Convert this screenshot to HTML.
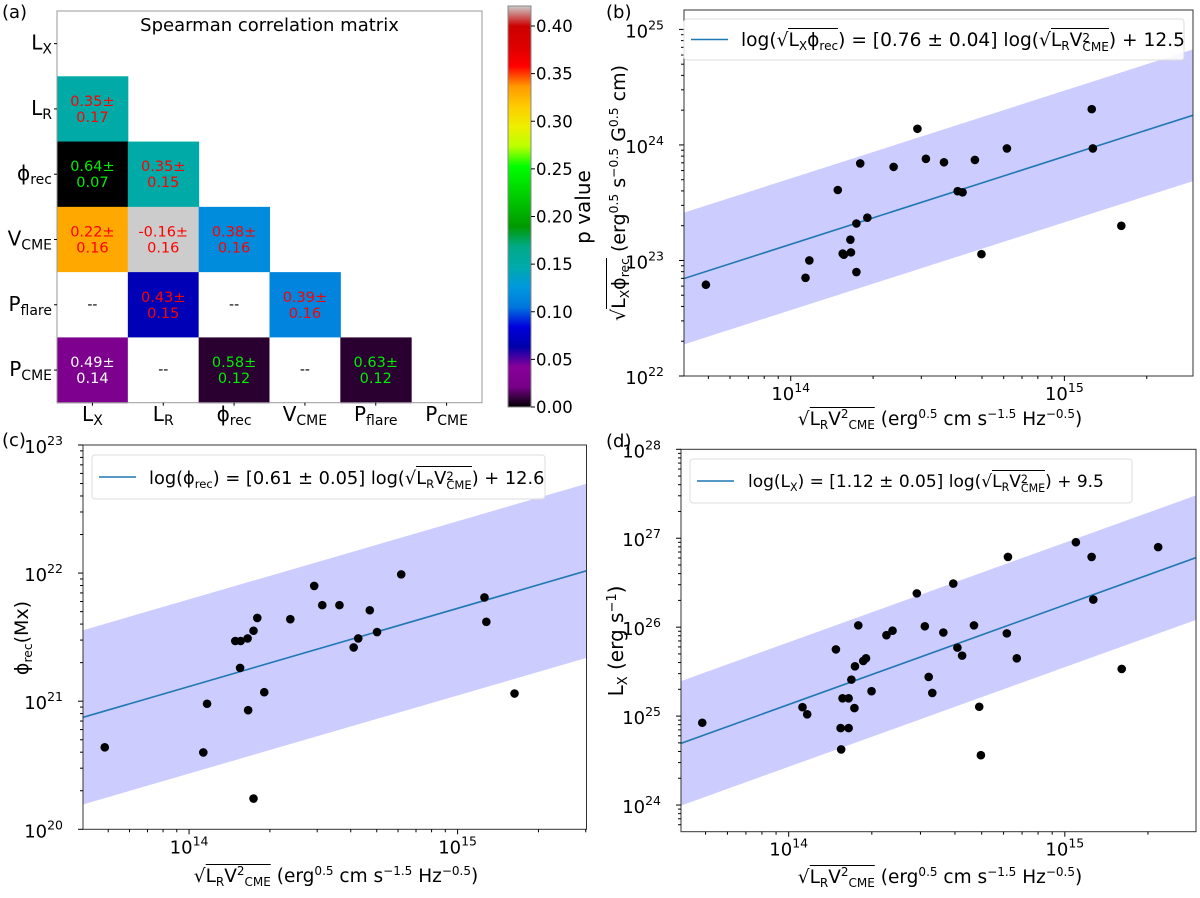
<!DOCTYPE html>
<html><head><meta charset="utf-8">
<style>
body{margin:0;background:#fff;}
#wrap{position:relative;width:1200px;height:898px;overflow:hidden;font-family:"DejaVu Sans","Liberation Sans",sans-serif;color:#000;}
svg{position:absolute;left:0;top:0;}
.lab{position:absolute;white-space:nowrap;font-size:17px;line-height:20px;}
.ov{border-top:1.3px solid #000;padding-top:1px;}
.ss{display:inline-block;vertical-align:-5px;line-height:9px;font-size:0.65em;text-align:left;}
sub{font-size:0.65em;vertical-align:-4px;line-height:0;}
sup{font-size:0.65em;vertical-align:7px;line-height:0;}
.rot{transform:translate(-50%,-50%) rotate(-90deg);}
.ctr{transform:translateX(-50%);}
</style></head>
<body>
<div id="wrap">
<svg id="svg" width="1200" height="898"></svg>

<div class="lab" style="left:741px;top:31px;font-size:18.6px;">log(√<span class="ov">L<sub>X</sub>ϕ<sub>rec</sub></span>) = [0.76 ± 0.04] log(√<span class="ov">L<sub>R</sub>V<span class="ss">2<br>CME</span></span>) + 12.5</div>
<div class="lab" style="left:149px;top:469px;font-size:17.8px;">log(ϕ<sub>rec</sub>) = [0.61 ± 0.05] log(√<span class="ov">L<sub>R</sub>V<span class="ss">2<br>CME</span></span>) + 12.6</div>
<div class="lab" style="left:748px;top:472px;font-size:17px;">log(L<sub>X</sub>) = [1.12 ± 0.05] log(√<span class="ov">L<sub>R</sub>V<span class="ss">2<br>CME</span></span>) + 9.5</div>

<div class="lab ctr" style="left:940px;top:410px;font-size:18.5px;">√<span class="ov">L<sub>R</sub>V<sup>2</sup><sub>CME</sub></span> (erg<sup>0.5</sup> cm s<sup>−1.5</sup> Hz<sup>−0.5</sup>)</div>
<div class="lab ctr" style="left:336px;top:867px;font-size:18.5px;">√<span class="ov">L<sub>R</sub>V<sup>2</sup><sub>CME</sub></span> (erg<sup>0.5</sup> cm s<sup>−1.5</sup> Hz<sup>−0.5</sup>)</div>
<div class="lab ctr" style="left:940px;top:868px;font-size:18.5px;">√<span class="ov">L<sub>R</sub>V<sup>2</sup><sub>CME</sub></span> (erg<sup>0.5</sup> cm s<sup>−1.5</sup> Hz<sup>−0.5</sup>)</div>

<div class="lab rot" style="left:619px;top:193px;font-size:19px;">√<span class="ov">L<sub>X</sub>ϕ<sub>rec</sub></span> (erg<sup>0.5</sup> s<sup>−0.5</sup> G<sup>0.5</sup> cm)</div>
<div class="lab rot" style="left:22px;top:638px;font-size:19px;">ϕ<sub>rec</sub>(Mx)</div>
<div class="lab rot" style="left:616px;top:641px;font-size:20px;">L<sub>X</sub> (erg s<sup>−1</sup>)</div>
</div>

<script>
// ---------- Panel (a) data ----------
const matLabels = [["L","X"],["L","R"],["ϕ","rec"],["V","CME"],["P","flare"],["P","CME"]];
// p-values (lower triangle), null = "--"
const pRow1 = [0.15];
const pRow2 = [0.0, 0.15];
const pRow3 = [0.33, 0.45, 0.118];
const pRow4 = [null, 0.068, null, 0.113];
const pRow5 = [0.03, null, 0.0074, null, 0.0074];
const rhoRow1 = ["0.35±0.17"];
const rhoRow2 = ["0.64±0.07","0.35±0.15"];
const rhoRow3 = ["0.22±0.16","-0.16±0.16","0.38±0.16"];
const rhoRow4 = ["--","0.43±0.15","--","0.39±0.16"];
const rhoRow5 = ["0.49±0.14","--","0.58±0.12","--","0.63±0.12"];
const cbarTicks = [0,0.05,0.10,0.15,0.20,0.25,0.30,0.35,0.40];
const cbarMax = 0.421;

// ---------- Panel (b) data (log10 values) ----------
const bLogX = [13.69,14.054,14.068,14.172,14.19,14.194,14.218,14.22,14.24,14.24,14.254,14.28,14.376,14.463,14.494,14.56,14.61,14.628,14.673,14.697,14.79,15.1,15.104,15.208];
const bLogY = [22.79,22.85,23.00,23.61,23.06,23.05,23.18,23.07,23.32,22.90,23.84,23.37,23.81,24.14,23.88,23.85,23.60,23.59,23.87,23.055,23.97,24.31,23.97,23.30];
const bFit = [0.76, 12.5, 0.57];
const bYTicks = [22,23,24,25];

// ---------- Panel (c) data ----------
const cLogX = [13.686,14.053,14.067,14.172,14.192,14.218,14.19,14.22,14.24,14.24,14.254,14.28,14.377,14.466,14.496,14.56,14.613,14.63,14.673,14.70,14.79,15.10,15.107,15.212];
const cLogY = [20.64,20.60,20.98,21.47,21.47,21.49,21.26,20.93,21.55,20.24,21.65,21.07,21.64,21.90,21.75,21.75,21.42,21.49,21.71,21.54,21.99,21.81,21.62,21.06];
const cFit = [0.61, 12.575, 0.68];
const cYTicks = [20,21,22,23];

// ---------- Panel (d) data ----------
const dLogX = [13.687,14.05,14.067,14.171,14.188,14.19,14.195,14.217,14.217,14.227,14.238,14.24,14.252,14.27,14.28,14.30,14.354,14.376,14.464,14.493,14.507,14.52,14.56,14.596,14.611,14.628,14.671,14.69,14.696,14.79,14.794,14.826,15.04,15.097,15.103,15.206,15.338];
const dLogY = [24.925,25.10,25.02,25.75,24.865,24.625,25.20,25.20,24.865,25.41,25.09,25.56,26.02,25.62,25.65,25.28,25.91,25.96,26.38,26.01,25.44,25.26,25.94,26.49,25.77,25.68,26.02,25.105,24.56,25.93,26.79,25.65,26.955,26.79,26.31,25.53,26.90];
const dFit = [1.12, 9.45, 0.70];
const dYTicks = [24,25,26,27,28];

const xTicks = [14,15];

const NS = "http://www.w3.org/2000/svg";
const svg = document.getElementById('svg');
function el(tag, attrs, parent){
  const e = document.createElementNS(NS, tag);
  for (const k in attrs) e.setAttribute(k, attrs[k]);
  (parent||svg).appendChild(e);
  return e;
}
function linScale(d0,d1,p0,p1){ return v => p0 + (v-d0)/(d1-d0)*(p1-p0); }

// nipy_spectral
const spec = [[0,0,0],[.4667,0,.5333],[.5333,0,.6],[0,0,.6667],[0,0,.8667],[0,.4667,.8667],[0,.6,.8667],[0,.6667,.6667],[0,.6667,.5333],[0,.6,0],[0,.7333,0],[0,.8667,0],[0,1,0],[.7333,1,0],[.9333,.9333,0],[1,.8,0],[1,.6,0],[1,0,0],[.8667,0,0],[.8,0,0],[.8,.8,.8]];
function cmap(f){
  f = Math.max(0, Math.min(1, f));
  const t = f*20, i = Math.min(19, Math.floor(t)), r = t - i;
  const a = spec[i], b = spec[i+1];
  const c = a.map((v,k)=>Math.round(255*(v+(b[k]-v)*r)));
  return `rgb(${c[0]},${c[1]},${c[2]})`;
}

// ---------- Panel labels ----------
[["(a)",2,18,"panel-label-a"],["(b)",606,18,"panel-label-b"],["(c)",2,446,"panel-label-c"],["(d)",606,447,"panel-label-d"]].forEach(p=>{
  const t = el('text',{x:p[1],y:p[2],'font-size':18});
  t.textContent = p[0];
  
  
});

// ---------- Panel (a) ----------
(function(){
  const L=57, R=482, T=11, B=402.7;
  const cw=(R-L)/6, ch=(B-T)/6;
  const pRows=[[],pRow1,pRow2,pRow3,pRow4,pRow5];
  const rRows=[[],rhoRow1,rhoRow2,rhoRow3,rhoRow4,rhoRow5];
  const g = el('g',{});
  
  
  for(let i=1;i<6;i++){
    for(let j=0;j<i;j++){
      const p=pRows[i][j], txt=rRows[i][j];
      const x=L+j*cw, y=T+i*ch;
      const cell = el('rect',{x:x,y:y,width:cw+0.5,height:ch+0.5,fill:p===null?'#fff':cmap(p/cbarMax)},g);
      
      
      const cx=x+cw/2, cy=y+ch/2;
      if(p===null){
        const t=el('text',{x:cx,y:cy+4,'text-anchor':'middle','font-size':14,fill:'#000'},g);
        t.textContent='--';
        
        
      } else {
        const col = p>0.05 ? '#ff0000' : (p<0.01 ? '#00ee00' : '#ffffff');
        const parts = txt.split('±');
        const t1=el('text',{x:cx,y:cy-3,'text-anchor':'middle','font-size':14.5,fill:col},g);
        t1.textContent=parts[0]+'±';
        
        
        const t2=el('text',{x:cx,y:cy+13,'text-anchor':'middle','font-size':14.5,fill:col},g);
        t2.textContent=parts[1];
        
        
      }
    }
  }
  const fr = el('rect',{x:L,y:T,width:R-L,height:B-T,fill:'none',stroke:'#999','stroke-width':1});
  
  
  const title = el('text',{x:(L+R)/2,y:31,'text-anchor':'middle','font-size':18});
  title.textContent='Spearman correlation matrix';
  
  
  for(let k=0;k<6;k++){
    const yc=T+(k+0.5)*ch, xc=L+(k+0.5)*cw;
    el('line',{x1:L-3,x2:L,y1:yc,y2:yc,stroke:'#000'});
    el('line',{x1:xc,x2:xc,y1:B,y2:B+3,stroke:'#000'});
    const ty=el('text',{x:L-5,y:yc+6,'text-anchor':'end','font-size':20});
    ty.innerHTML = matLabels[k][0]+'<tspan font-size="14" dy="4">'+matLabels[k][1]+'</tspan>';
    
    
    const tx=el('text',{x:xc,y:421,'text-anchor':'middle','font-size':20});
    tx.innerHTML = matLabels[k][0]+'<tspan font-size="14" dy="4">'+matLabels[k][1]+'</tspan>';
    
    
  }
  // colorbar
  const CL=508, CR=531, CT=6, CB=407;
  const defs=el('defs',{});
  const lg=el('linearGradient',{id:'cg',x1:0,y1:1,x2:0,y2:0},defs);
  for(let s=0;s<=20;s++){ el('stop',{offset:s/20,'stop-color':cmap(s/20)},lg); }
  const cb=el('rect',{x:CL,y:CT,width:CR-CL,height:CB-CT,fill:'url(#cg)',stroke:'#888','stroke-width':1});
  
  
  const cy=linScale(0,cbarMax,CB,CT);
  cbarTicks.forEach(v=>{
    const y=cy(v);
    el('line',{x1:CR,x2:CR+4,y1:y,y2:y,stroke:'#000'});
    const t=el('text',{x:CR+5,y:y+6,'font-size':16.5});
    t.textContent=v.toFixed(2);
    
    
  });
  const pv=el('text',{x:0,y:0,'font-size':20,'text-anchor':'middle',transform:'translate(590,207) rotate(-90)'});
  pv.textContent='p value';
  
  
})();

// ---------- scatter panels ----------
function scatter(cfg){
  const g=el('g',{});
  
  
  const sx=linScale(cfg.xr[0],cfg.xr[1],cfg.px[0],cfg.px[1]);
  const sy=linScale(cfg.yr[0],cfg.yr[1],cfg.py[1],cfg.py[0]);
  const cid='clip-'+cfg.name;
  const defs=el('defs',{},g);
  const cp=el('clipPath',{id:cid},defs);
  el('rect',{x:cfg.px[0],y:cfg.py[0],width:cfg.px[1]-cfg.px[0],height:cfg.py[1]-cfg.py[0]},cp);
  const [m,b,w]=cfg.fit;
  const x0=cfg.xr[0], x1=cfg.xr[1];
  const band=el('polygon',{points:[[sx(x0),sy(m*x0+b+w)],[sx(x1),sy(m*x1+b+w)],[sx(x1),sy(m*x1+b-w)],[sx(x0),sy(m*x0+b-w)]].map(p=>p.join(',')).join(' '),fill:'#ccccff','clip-path':`url(#${cid})`},g);
  
  
  const ln=el('line',{x1:sx(x0),y1:sy(m*x0+b),x2:sx(x1),y2:sy(m*x1+b),stroke:'#1f77b4','stroke-width':1.6,'clip-path':`url(#${cid})`},g);
  
  
  cfg.lx.forEach((v,i)=>{
    const c=el('circle',{cx:sx(v),cy:sy(cfg.ly[i]),r:4.3,fill:'#000'},g);
    
    
  });
  const fr=el('rect',{x:cfg.px[0],y:cfg.py[0],width:cfg.px[1]-cfg.px[0],height:cfg.py[1]-cfg.py[0],fill:'none',stroke:'#333','stroke-width':1},g);
  
  
  for(let d=Math.floor(x0);d<=Math.ceil(x1);d++){
    for(let k=1;k<10;k++){
      const v=d+Math.log10(k);
      if(v<x0||v>x1) continue;
      const X=sx(v), len=k===1?5:3;
      el('line',{x1:X,x2:X,y1:cfg.py[1],y2:cfg.py[1]+len,stroke:'#000'},g);
    }
  }
  xTicks.forEach(v=>{
    const t=el('text',{x:sx(v),y:cfg.py[1]+24,'text-anchor':'middle','font-size':18},g);
    t.innerHTML='10<tspan font-size="12.5" dy="-8">'+v+'</tspan>';
    
    
  });
  for(let d=Math.floor(cfg.yr[0]);d<=Math.ceil(cfg.yr[1]);d++){
    for(let k=1;k<10;k++){
      const v=d+Math.log10(k);
      if(v<cfg.yr[0]-1e-6||v>cfg.yr[1]+1e-6) continue;
      const Y=sy(v), len=k===1?5:3;
      el('line',{x1:cfg.px[0]-len,x2:cfg.px[0],y1:Y,y2:Y,stroke:'#000'},g);
    }
  }
  cfg.yt.forEach(v=>{
    const t=el('text',{x:cfg.px[0]-20,y:sy(v)+8,'text-anchor':'end','font-size':18},g);
    t.innerHTML='10<tspan font-size="12.5" dy="-8">'+v+'</tspan>';
    
    
  });
  const L=cfg.leg;
  const lb=el('rect',{x:L[0],y:L[1],width:L[2]-L[0],height:L[3]-L[1],rx:3,fill:'#fff','fill-opacity':0.85,stroke:'#ddd'},g);
  
  
  const ls=el('line',{x1:L[0]+7,x2:L[0]+44,y1:(L[1]+L[3])/2,y2:(L[1]+L[3])/2,stroke:'#1f77b4','stroke-width':1.6},g);
  
  
}

scatter({name:'panel-b',px:[684,1193],py:[10,376],xr:[13.61,15.47],yr:[22,25.168],lx:bLogX,ly:bLogY,fit:bFit,yt:bYTicks,leg:[684,19,1184,60]});
scatter({name:'panel-c',px:[83,586.5],py:[445,829.3],xr:[13.605,15.48],yr:[20,23],lx:cLogX,ly:cLogY,fit:cFit,yt:cYTicks,leg:[92,455,545,499]});
scatter({name:'panel-d',px:[681,1196],py:[449.3,831.7],xr:[13.61,15.475],yr:[23.70,28],lx:dLogX,ly:dLogY,fit:dFit,yt:dYTicks,leg:[690,459,1132,503]});
</script>
</body></html>
